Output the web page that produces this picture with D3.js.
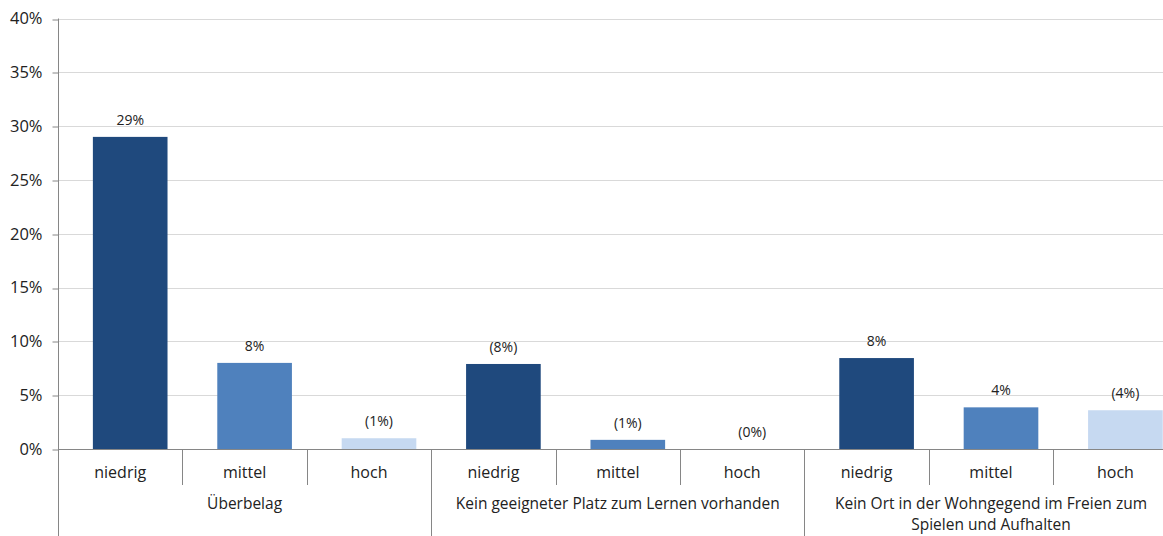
<!DOCTYPE html>
<html>
<head>
<meta charset="utf-8">
<script src="https://cdn.jsdelivr.net/npm/d3@7"></script>
<style>
  body { margin: 0; background: #fff; }
  svg { display: block; font-family: "Open Sans", "Liberation Sans", sans-serif; }
</style>
</head>
<body>
<svg id="chart"></svg>
<script>
const width = 1163;
const height = 536;

// data
const groups = ["Überbelag", "Kein geeigneter Platz zum Lernen vorhanden", "Kein Ort in der Wohngegend im Freien zum|Spielen und Aufhalten"];
const levels = ["niedrig", "mittel", "hoch"];
const values = [29.0, 8.0, 1.0, 7.9, 0.85, 0, 8.45, 3.87, 3.6];
const labels = ["29%", "8%", "(1%)", "(8%)", "(1%)", "(0%)", "8%", "4%", "(4%)"];
const yTicks = [0, 5, 10, 15, 20, 25, 30, 35, 40];
const colors = ["#1f497d", "#4f81bd", "#c6d9f1"];

const svg = d3.select("#chart").attr("width", width).attr("height", height);

const left = 58, bandW = 124.4;
const cats = d3.range(9);

const x = d3.scaleBand().domain(cats).range([left, left + 9 * bandW]);
// bars sit slightly to the right of their category slot, as in the source
const xBar = d3.scaleBand().domain(cats).range([left + 10, left + 10 + 9 * bandW])
  .paddingInner(0.4).paddingOuter(0.2);
const y = d3.scaleLinear().domain([0, 40]).range([449, 18.5]);

// gridlines
svg.append("g")
  .selectAll("line")
  .data(yTicks.slice(1))
  .join("line")
  .attr("x1", left).attr("x2", width)
  .attr("y1", d => Math.round(y(d)) + 0.5).attr("y2", d => Math.round(y(d)) + 0.5)
  .attr("stroke", "#d9d9d9");

// y-axis
const yAxis = svg.append("g")
  .attr("transform", `translate(${left + 0.5},0)`)
  .call(d3.axisLeft(y).tickValues(yTicks).tickFormat(d => d + "%").tickSize(6).tickPadding(10));
yAxis.select(".domain").remove();
yAxis.selectAll(".tick line").attr("stroke", "#868686")
  .attr("transform", d => `translate(0,${Math.round(y(d)) + 0.5 - y(d)})`);
yAxis.selectAll(".tick text").attr("font-size", 16.5).attr("fill", "#222")
  .style("font-family", "'Open Sans', sans-serif");
svg.append("line")
  .attr("x1", left + 0.5).attr("x2", left + 0.5)
  .attr("y1", y(40)).attr("y2", height)
  .attr("stroke", "#868686");

// bars
svg.append("g")
  .selectAll("rect")
  .data(values)
  .join("rect")
  .attr("x", (d, i) => xBar(i))
  .attr("width", xBar.bandwidth())
  .attr("y", d => y(d))
  .attr("height", d => y(0) - y(d))
  .attr("fill", (d, i) => colors[i % 3]);

// data labels
svg.append("g")
  .selectAll("text")
  .data(values)
  .join("text")
  .attr("x", (d, i) => xBar(i) + xBar.bandwidth() / 2)
  .attr("y", d => y(d) - 12)
  .attr("text-anchor", "middle")
  .attr("font-size", 14)
  .attr("fill", "#222")
  .text((d, i) => labels[i]);

// x baseline
svg.append("line")
  .attr("x1", left).attr("x2", width)
  .attr("y1", 449.5).attr("y2", 449.5)
  .attr("stroke", "#868686");

// category separators
svg.append("g")
  .selectAll("line")
  .data(d3.range(1, 9))
  .join("line")
  .attr("x1", i => Math.round(x(i)) + 0.5).attr("x2", i => Math.round(x(i)) + 0.5)
  .attr("y1", 449)
  .attr("y2", i => i % 3 === 0 ? height : 485)
  .attr("stroke", "#868686");

// level labels
svg.append("g")
  .selectAll("text")
  .data(cats)
  .join("text")
  .attr("x", i => x(i) + x.bandwidth() / 2)
  .attr("y", 478)
  .attr("text-anchor", "middle")
  .attr("font-size", 16)
  .attr("fill", "#222")
  .text(i => levels[i % 3]);

// group labels
svg.append("g")
  .selectAll("text")
  .data(groups)
  .join("text")
  .attr("x", (d, g) => x(g * 3) + 1.5 * bandW)
  .attr("y", 509)
  .attr("text-anchor", "middle")
  .attr("font-size", 15.5)
  .attr("fill", "#222")
  .each(function(d) {
    const t = d3.select(this);
    d.split("|").forEach((line, k) => {
      t.append("tspan")
        .attr("x", t.attr("x"))
        .attr("dy", k === 0 ? 0 : 21)
        .text(line);
    });
  });
</script>
</body>
</html>
